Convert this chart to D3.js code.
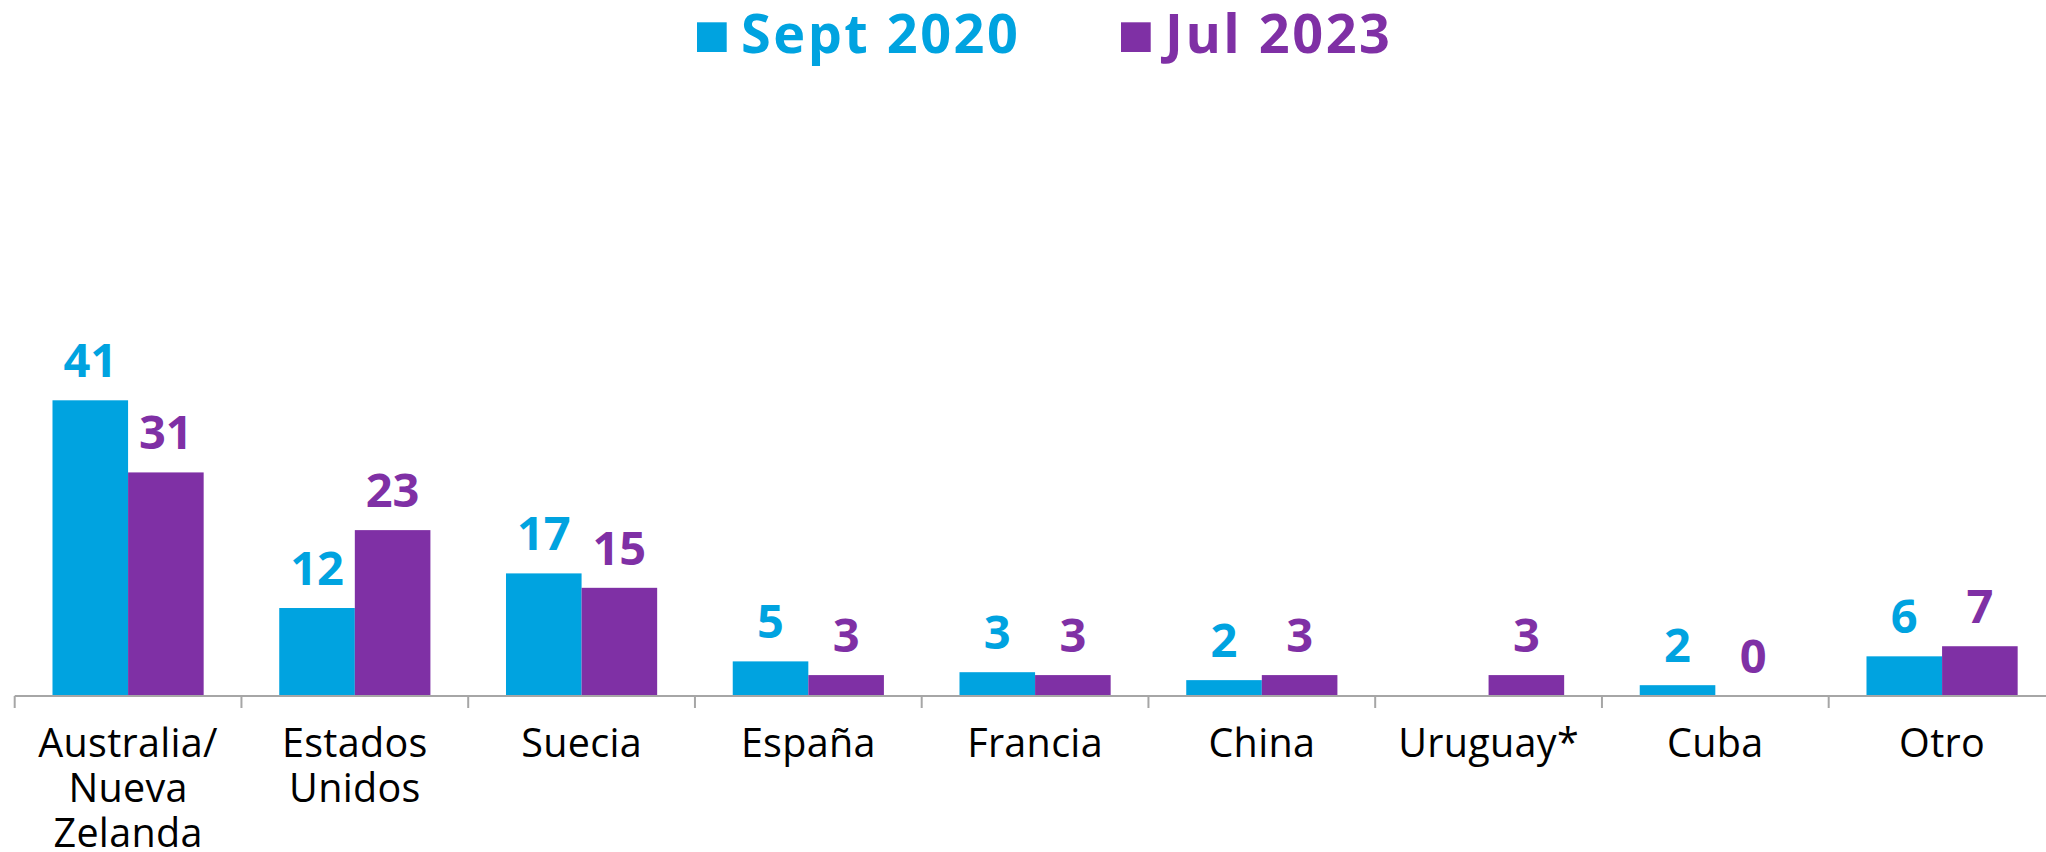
<!DOCTYPE html>
<html>
<head>
<meta charset="utf-8">
<script src="https://cdn.jsdelivr.net/npm/d3@7"></script>
<style>
  html, body { margin: 0; padding: 0; background: #ffffff; }
  svg { display: block; }
</style>
</head>
<body>
<div id="chart"></div>
<script>
// ---- data ----
const categories = ["Australia/\nNueva\nZelanda", "Estados\nUnidos", "Suecia", "España", "Francia", "China", "Uruguay*", "Cuba", "Otro"];
const seriesNames = ["Sept 2020", "Jul 2023"];
const sept2020 = [41, 12.2, 17, 4.8, 3.3, 2.2, null, 1.5, 5.5];
const jul2023 = [31, 23, 15, 2.9, 2.9, 2.9, 2.9, 0, 6.9];
const seriesColors = ["#00A3E0", "#7F30A5"];

// ---- layout ----
const W = 2046, H = 852;
const axisY = 696;
const x0 = 14.7, bandW = 226.75;

const svg = d3.select("#chart").append("svg")
  .attr("width", W).attr("height", H);

const x = d3.scaleBand().domain(categories)
  .range([x0, x0 + bandW * categories.length]).paddingInner(0).paddingOuter(0);
const bw = x.bandwidth();
const xs = d3.scaleBand().domain(seriesNames).range([bw / 6, bw * 5 / 6]).padding(0);
const y = d3.scaleLinear().domain([0, 41]).range([axisY, 400.3]);

const seriesData = [sept2020, jul2023];
const rows = [];
seriesData.forEach((vals, si) => {
  vals.forEach((v, ci) => {
    if (v !== null) rows.push({ cat: categories[ci], series: seriesNames[si], value: v, color: seriesColors[si] });
  });
});

// bars
svg.append("g").selectAll("rect").data(rows).join("rect")
  .attr("x", d => x(d.cat) + xs(d.series))
  .attr("y", d => y(d.value))
  .attr("width", xs.bandwidth())
  .attr("height", d => axisY - y(d.value))
  .attr("fill", d => d.color);

// value labels
svg.append("g").selectAll("text").data(rows).join("text")
  .attr("x", d => x(d.cat) + xs(d.series) + xs.bandwidth() / 2)
  .attr("y", d => y(d.value) - 23)
  .attr("text-anchor", "middle")
  .attr("font-family", "'Open Sans', sans-serif")
  .attr("font-weight", 700)
  .attr("font-size", 47)
  .attr("fill", d => d.color)
  .text(d => Math.round(d.value));

// x axis
const axis = d3.axisBottom(x).tickSize(0).tickFormat("");
const gAxis = svg.append("g").attr("transform", `translate(0,${axisY})`).call(axis);
gAxis.select(".domain").remove();
gAxis.append("line").attr("x1", x0).attr("x2", W).attr("y1", 0).attr("y2", 0)
  .attr("stroke", "#A6A6A6").attr("stroke-width", 2);
gAxis.selectAll(".sep").data(categories).join("line").attr("class", "sep")
  .attr("x1", d => x(d)).attr("x2", d => x(d))
  .attr("y1", 0).attr("y2", 12)
  .attr("stroke", "#A6A6A6").attr("stroke-width", 2);

// category labels
const catLabels = svg.append("g").selectAll("text").data(categories).join("text")
  .attr("text-anchor", "middle")
  .attr("font-family", "'Open Sans', sans-serif")
  .attr("font-weight", 400)
  .attr("font-size", 39.5)
  .attr("letter-spacing", 0.3)
  .attr("fill", "#000000");
catLabels.each(function (d) {
  const t = d3.select(this);
  d.split("\n").forEach((line, i) => {
    t.append("tspan")
      .attr("x", x(d) + bw / 2)
      .attr("y", 756.7 + i * 45)
      .text(line);
  });
});

// legend
const legendX = [697, 1121];
const legend = svg.append("g").selectAll("g").data(seriesNames).join("g")
  .attr("transform", (d, i) => `translate(${legendX[i]},0)`);
legend.append("rect")
  .attr("x", 0).attr("y", 22.3).attr("width", 29.7).attr("height", 29.7)
  .attr("fill", (d, i) => seriesColors[i]);
legend.append("text")
  .attr("x", 44).attr("y", 52.7)
  .attr("font-family", "'Open Sans', sans-serif")
  .attr("font-weight", 700)
  .attr("font-size", 54)
  .attr("letter-spacing", 2.5)
  .attr("fill", (d, i) => seriesColors[i])
  .text(d => d);
</script>
</body>
</html>
